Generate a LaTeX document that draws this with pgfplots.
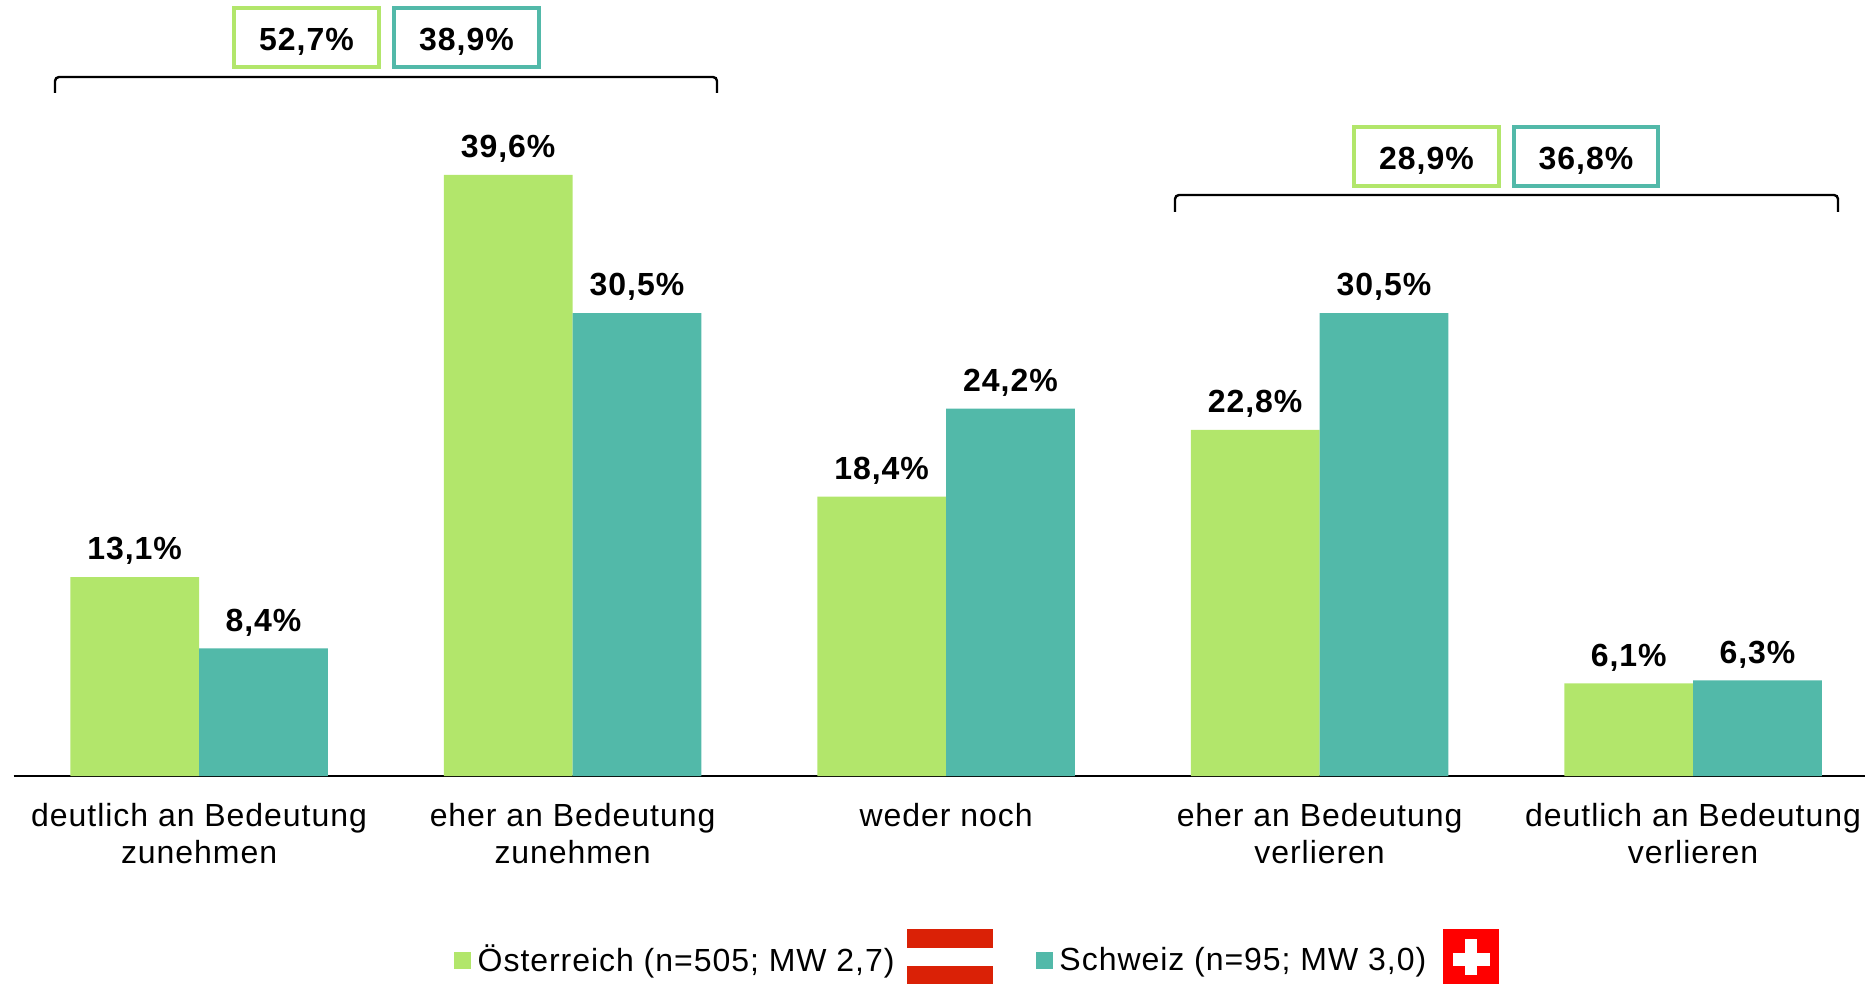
\documentclass[border=0pt]{standalone}
\usepackage{pgfplots}
\pgfplotsset{compat=1.18}
\usepackage{fontspec}
\setmainfont[LetterSpace=3]{Liberation Sans}
\definecolor{grn}{HTML}{B2E66B}
\definecolor{tea}{HTML}{52B9A9}
\definecolor{atred}{HTML}{DA2106}
\definecolor{chred}{HTML}{FF0000}
\newcommand{\fs}{\fontsize{16}{18.5}\selectfont}
\pgfplotsset{sq/.style={legend image code/.code={\fill[##1] (0pt,-4.25pt) rectangle (8.5pt,4.25pt);}}}
\begin{document}
\begin{tikzpicture}[x=0.5pt,y=-0.5pt]
\path[use as bounding box] (0,0) rectangle (1865,984);
\begin{axis}[
  at={(6.75pt,-388pt)}, anchor=south west,
  scale only axis, width=926pt, height=388pt,
  xmin=-0.4969, xmax=4.4616, ymin=0, ymax=51.12,
  axis y line=none, axis x line=bottom,
  axis line style={-,black,line width=0.7pt},
  ybar=0pt, bar width=64.4pt,
  xtick={0,1,2,3,4},
  major tick length=0pt,
  xticklabels={{deutlich an Bedeutung\\zunehmen},{eher an Bedeutung\\zunehmen},{weder noch},{eher an Bedeutung\\verlieren},{deutlich an Bedeutung\\verlieren}},
  xticklabel style={font=\fs,align=center,anchor=north,yshift=-10pt},
  clip=false,
  nodes near coords={\pgfmathprintnumber[fixed,fixed zerofill,precision=1,use comma,assume math mode=true]{\pgfplotspointmeta}\%},
  every node near coord/.append style={font=\fs\bfseries,text=black,yshift=2.6pt},
  legend style={at={(0.2378,-0.2371)},anchor=west,draw=none,fill=none,inner sep=0pt,font=\fs,
    legend columns=2,
    /tikz/column 1/.style={column sep=1.2pt},
    /tikz/column 2/.style={column sep=68.8pt},
    /tikz/column 3/.style={column sep=1.2pt}},
  legend cell align=left,
]
\addplot[sq,fill=grn,draw=none] coordinates {(0,13.1) (1,39.6) (2,18.4) (3,22.8) (4,6.1)};
\addplot[sq,fill=tea,draw=none] coordinates {(0,8.4) (1,30.5) (2,24.2) (3,30.5) (4,6.3)};
\addlegendentry{Österreich (n=505; MW 2,7)}
\addlegendentry{Schweiz (n=95; MW 3,0)}
\end{axis}
% summary brackets and boxes
\draw[line width=1.2pt,rounded corners=2pt] (55,93) -- (55,77) -- (717,77) -- (717,93);
\draw[line width=1.2pt,rounded corners=2pt] (1175,212) -- (1175,195) -- (1838,195) -- (1838,212);
\tikzset{bx/.style={line width=2pt,font=\fs\bfseries},lab/.style={text=black,yshift=-2pt}}
\draw[bx,draw=grn] (234,8) rectangle node[lab]{52,7\%} (379,67);
\draw[bx,draw=tea] (394,8) rectangle node[lab]{38,9\%} (539,67);
\draw[bx,draw=grn] (1354,127) rectangle node[lab]{28,9\%} (1499,186);
\draw[bx,draw=tea] (1514,127) rectangle node[lab]{36,8\%} (1658,186);
% flags
\fill[atred] (907,929) rectangle (993,948);
\fill[atred] (907,966) rectangle (993,984);
\fill[chred] (1443,929) rectangle (1499,984);
\fill[white] (1453,953) rectangle (1490,966);
\fill[white] (1465,939) rectangle (1477,975);
\end{tikzpicture}
\end{document}
